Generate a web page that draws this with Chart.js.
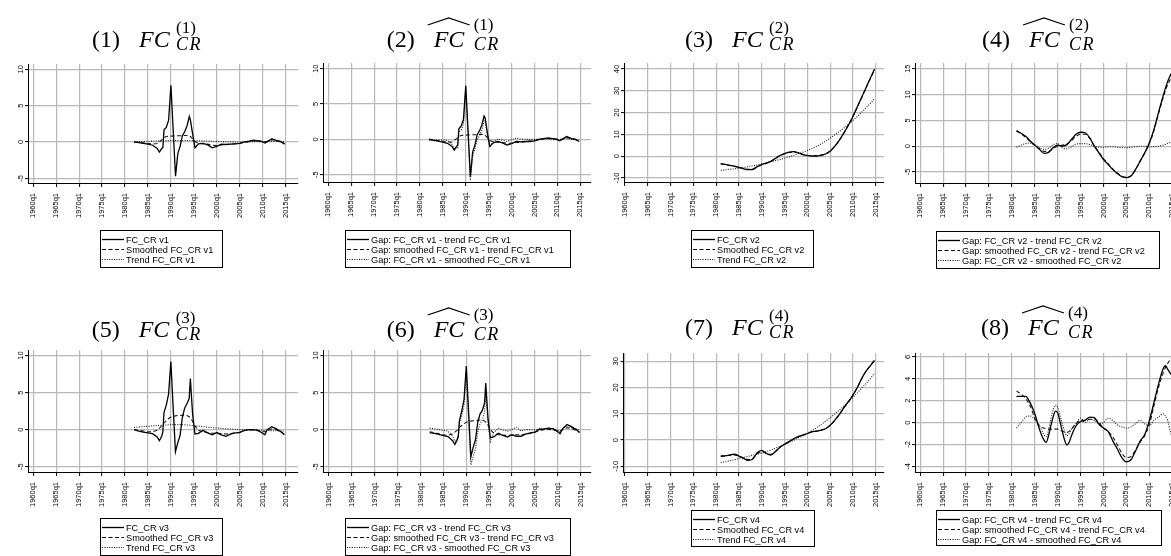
<!DOCTYPE html>
<html><head><meta charset="utf-8">
<script src="https://cdn.jsdelivr.net/npm/chart.js@4.4.1/dist/chart.umd.min.js"></script>
<style>
html,body{margin:0;padding:0;background:#fff;width:1171px;height:556px;overflow:hidden}
#wrap{position:relative;width:1171px;height:556px;overflow:hidden;background:#fff}
#wrap canvas{position:absolute}
#ov{position:absolute;left:0;top:0}
</style></head><body><div id="wrap"><svg id="ov" width="1171" height="556" xmlns="http://www.w3.org/2000/svg"></svg></div>
<script>
// ---------- tick labels ----------
const X_TICKS = [1960,1965,1970,1975,1980,1985,1990,1995,2000,2005,2010,2015];
const X_TICK_LABELS = ["1960q1","1965q1","1970q1","1975q1","1980q1","1985q1","1990q1","1995q1","2000q1","2005q1","2010q1","2015q1"];
const Y_TICKS_1 = [-5,0,5,10];
const Y_TICKS_2 = [-5,0,5,10];
const Y_TICKS_3 = [-10,0,10,20,30,40];
const Y_TICKS_4 = [-5,0,5,10,15];
const Y_TICKS_5 = [-5,0,5,10];
const Y_TICKS_6 = [-5,0,5,10];
const Y_TICKS_7 = [-10,0,10,20,30];
const Y_TICKS_8 = [-4,-2,0,2,4,6];

// ---------- time points (years) ----------
const T_A = [1982,1983,1984,1985,1986,1987,1987.5,1988,1988.25,1988.5,1989,1989.5,1990,1990.5,1991,1991.5,1992,1992.5,1993,1993.5,1994,1994.25,1994.75,1995.25,1996,1997,1998,1999,2000,2001,2002,2003,2004,2005,2006,2007,2008,2009,2010,2010.5,2011,2012,2013,2014,2014.75];
const T_B = [1981,1982,1983,1984,1985,1986,1987,1988,1989,1990,1991,1992,1993,1994,1995,1996,1997,1998,1999,2000,2001,2002,2003,2004,2005,2006,2007,2008,2009,2010,2011,2012,2013,2014,2014.75];
const T_C = [1981,1982,1983,1984,1985,1986,1987,1987.5,1988,1988.5,1989,1989.5,1990,1990.5,1991,1991.5,1992,1992.5,1993,1994,1995,1996,1997,1998,1999,2000,2001,2002,2003,2004,2005,2006,2007,2008,2009,2010,2011,2012,2013,2013.5,2014,2014.75];

// ---------- series ----------
const P1_FC = [0.0,-0.1,-0.2,-0.3,-0.45,-0.9,-1.4,-0.9,-0.75,1.7,2.0,3.0,7.8,1.5,-4.7,-1.6,-0.6,0.9,1.4,2.2,3.5,3.0,1.0,-0.8,-0.25,-0.2,-0.4,-0.8,-0.6,-0.3,-0.35,-0.3,-0.25,-0.2,0.0,0.1,0.25,0.15,0.0,-0.15,0.05,0.45,0.2,0.0,-0.3];
const P1_SMOOTH = [0.0,-0.05,-0.1,-0.2,-0.3,-0.2,0.0,0.3,0.45,0.6,0.75,0.8,0.8,0.82,0.85,0.85,0.85,0.9,0.9,0.9,0.85,0.75,0.4,0.05,-0.2,-0.25,-0.3,-0.45,-0.5,-0.4,-0.35,-0.3,-0.25,-0.2,-0.05,0.05,0.15,0.15,0.1,0.05,0.1,0.3,0.25,0.05,-0.2];
const P1_TREND = [0.05,0.06,0.08,0.1,0.12,0.14,0.15,0.16,0.17,0.17,0.18,0.19,0.2,0.2,0.2,0.2,0.2,0.2,0.2,0.2,0.2,0.2,0.19,0.18,0.17,0.15,0.13,0.1,0.08,0.06,0.04,0.02,0.0,0.0,0.0,0.02,0.04,0.05,0.06,0.06,0.07,0.08,0.08,0.07,0.05];

const P2_GAP = [0.0,-0.15,-0.25,-0.4,-0.55,-1.0,-1.5,-1.0,-0.8,1.5,1.9,2.8,7.6,1.3,-5.3,-1.8,-0.8,0.7,1.2,2.0,3.3,3.0,0.8,-1.0,-0.5,-0.3,-0.5,-0.8,-0.6,-0.3,-0.35,-0.3,-0.3,-0.2,0.0,0.1,0.2,0.1,-0.05,-0.2,0.0,0.4,0.15,-0.05,-0.3];
const P2_SGAP = [-0.05,-0.1,-0.2,-0.3,-0.4,-0.35,-0.15,0.1,0.25,0.4,0.55,0.6,0.6,0.62,0.65,0.65,0.65,0.68,0.7,0.7,0.65,0.55,0.2,-0.15,-0.35,-0.4,-0.45,-0.55,-0.55,-0.45,-0.4,-0.32,-0.25,-0.2,-0.05,0.05,0.12,0.1,0.05,0.0,0.05,0.2,0.15,0.0,-0.25];
const P2_DGAP = [0.05,-0.05,-0.1,-0.1,-0.15,-0.7,-1.4,-1.2,-1.2,1.1,1.3,2.2,7.0,0.7,-5.8,-2.4,-1.4,0.0,0.5,1.3,2.6,2.4,0.5,-1.1,-0.3,0.05,-0.1,-0.3,-0.05,0.2,0.05,0.0,0.0,0.0,0.05,0.05,0.1,0.0,-0.05,-0.2,-0.05,0.2,0.0,-0.05,-0.05];

const P3_FC = [-3.4,-3.8,-4.2,-4.6,-5.1,-5.7,-6.2,-6.1,-4.8,-3.8,-3.2,-2.4,-1.0,0.3,1.2,1.9,2.1,1.6,0.7,0.3,0.1,0.1,0.4,1.0,2.3,4.5,7.3,10.6,14.2,18.2,22.8,27.4,32.0,36.6,40.0];
const P3_SMOOTH = [-3.5,-3.9,-4.3,-4.7,-5.2,-5.7,-6.0,-5.9,-4.9,-4.0,-3.3,-2.4,-1.1,0.2,1.1,1.7,1.9,1.6,0.9,0.4,0.2,0.2,0.5,1.1,2.4,4.5,7.3,10.6,14.2,18.2,22.7,27.3,31.9,36.4,39.6];
const P3_TREND = [-6.5,-6.3,-6.0,-5.8,-5.5,-5.2,-4.8,-4.4,-4.0,-3.5,-3.0,-2.5,-2.0,-1.5,-0.9,-0.3,0.4,1.1,1.8,2.6,3.5,4.5,5.6,6.9,8.3,9.8,11.3,12.9,14.6,16.4,18.3,20.3,22.4,24.6,26.5];

const P4_GAP = [3.0,2.5,1.9,1.0,0.2,-0.6,-1.4,-1.2,-0.3,0.2,0.0,0.3,1.3,2.3,2.7,2.6,1.6,0.0,-1.3,-2.6,-3.5,-4.5,-5.3,-5.9,-6.1,-5.8,-4.5,-2.9,-1.3,0.6,3.2,6.5,9.7,12.5,14.0];
const P4_SGAP = [2.9,2.4,1.7,0.9,0.1,-0.5,-1.0,-1.0,-0.5,0.0,0.2,0.4,1.1,1.9,2.3,2.3,1.5,0.1,-1.2,-2.4,-3.4,-4.4,-5.2,-5.8,-6.0,-5.7,-4.5,-2.9,-1.3,0.5,3.0,6.2,9.3,11.9,13.2];
const P4_DGAP = [-0.2,0.2,0.5,0.6,0.3,-0.3,-0.6,-0.4,0.3,0.5,-0.3,-0.5,-0.1,0.4,0.5,0.5,0.3,0.0,-0.2,-0.2,-0.1,-0.1,-0.2,-0.3,-0.3,-0.2,-0.1,0.0,0.0,-0.1,-0.1,0.0,0.2,0.5,0.8];

const P5_FC = [0.0,-0.2,-0.35,-0.45,-0.55,-1.0,-1.5,-0.9,-0.3,2.3,3.3,4.8,9.2,3.0,-3.0,-1.8,-0.8,1.6,2.9,3.5,4.2,6.9,2.0,-0.6,-0.5,-0.1,-0.45,-0.7,-0.4,-0.7,-0.9,-0.6,-0.45,-0.4,-0.1,0.0,0.0,-0.1,-0.5,-0.7,0.0,0.4,0.1,-0.3,-0.7];
const P5_SMOOTH = [0.0,-0.1,-0.2,-0.3,-0.3,-0.1,0.2,0.5,0.7,0.9,1.2,1.5,1.7,1.8,1.85,1.9,1.9,1.95,1.95,1.9,1.75,1.6,1.1,0.5,-0.1,-0.3,-0.4,-0.5,-0.5,-0.55,-0.6,-0.55,-0.45,-0.35,-0.15,-0.05,-0.05,-0.15,-0.3,-0.3,-0.15,0.1,0.0,-0.3,-0.6];
const P5_TREND = [0.3,0.35,0.4,0.45,0.5,0.55,0.57,0.6,0.6,0.62,0.63,0.65,0.67,0.68,0.68,0.68,0.67,0.66,0.65,0.63,0.6,0.58,0.55,0.52,0.47,0.4,0.33,0.27,0.22,0.17,0.12,0.08,0.04,0.0,-0.02,-0.04,-0.06,-0.08,-0.1,-0.1,-0.12,-0.14,-0.16,-0.18,-0.2];

const P6_GAP = [-0.4,-0.5,-0.65,-0.8,-0.95,-1.5,-2.0,-1.4,-0.9,1.2,2.5,4.0,8.6,2.5,-3.7,-2.4,-1.4,1.0,2.1,2.6,3.6,6.3,1.5,-1.1,-1.0,-0.5,-0.8,-1.0,-0.7,-0.9,-0.9,-0.6,-0.45,-0.35,0.05,0.1,0.2,0.1,-0.3,-0.55,0.1,0.7,0.4,0.0,-0.4];
const P6_SGAP = [-0.3,-0.4,-0.55,-0.7,-0.75,-0.6,-0.35,-0.1,0.1,0.3,0.55,0.8,1.0,1.1,1.15,1.2,1.2,1.25,1.3,1.3,1.15,1.0,0.6,0.0,-0.5,-0.7,-0.75,-0.8,-0.75,-0.7,-0.7,-0.6,-0.5,-0.35,-0.1,0.0,0.05,-0.05,-0.2,-0.2,-0.05,0.25,0.15,-0.1,-0.35];
const P6_DGAP = [0.2,0.1,0.0,-0.1,-0.2,-0.9,-1.6,-1.3,-1.0,0.9,1.9,3.2,7.5,1.3,-4.8,-3.6,-2.6,-0.3,0.8,1.3,2.4,5.0,0.9,-1.6,-0.4,0.2,-0.05,-0.2,0.05,0.3,-0.2,0.0,0.0,-0.05,0.1,0.1,0.15,0.15,-0.1,-0.35,0.1,0.45,0.25,0.1,-0.05];

const P7_FC = [-6.1,-6.0,-5.7,-5.4,-6.1,-7.0,-7.7,-7.3,-4.8,-3.9,-5.1,-5.7,-4.4,-2.7,-1.6,-0.6,0.5,1.3,1.9,2.5,3.2,3.4,3.8,4.3,5.6,7.5,9.7,12.3,14.6,17.1,20.1,23.7,26.5,28.7,30.3];
const P7_SMOOTH = [-6.2,-6.0,-5.8,-5.7,-6.1,-6.8,-7.4,-7.0,-5.2,-4.4,-5.0,-5.4,-4.4,-2.8,-1.6,-0.6,0.4,1.3,1.9,2.5,3.1,3.4,3.8,4.4,5.6,7.5,9.7,12.2,14.6,17.1,20.2,23.6,26.5,28.8,30.5];
const P7_TREND = [-8.6,-8.3,-7.9,-7.5,-7.0,-6.6,-6.2,-5.8,-5.4,-5.0,-4.4,-3.8,-3.1,-2.4,-1.7,-0.9,-0.1,0.8,1.6,2.5,3.6,4.7,5.9,7.2,8.5,9.9,11.4,12.9,14.5,16.2,18.0,19.9,21.8,23.8,25.5];

const P8_GAP = [2.4,2.4,2.4,1.8,0.8,-0.6,-1.6,-1.8,-1.2,-0.3,0.5,1.05,0.9,0.1,-0.8,-1.6,-2.05,-1.8,-1.2,-0.3,0.1,0.2,0.5,0.45,-0.15,-0.5,-0.8,-1.65,-2.4,-3.2,-3.6,-3.4,-2.6,-1.7,-1.1,0.15,1.8,3.5,4.9,5.2,4.9,4.4];
const P8_SGAP = [2.9,2.6,2.2,1.5,0.4,-0.3,-0.5,-0.55,-0.6,-0.6,-0.6,-0.6,-0.6,-0.7,-0.8,-0.85,-0.9,-0.8,-0.6,-0.1,0.2,0.2,0.3,0.3,0.0,-0.5,-0.8,-1.3,-2.0,-2.8,-3.2,-3.1,-2.5,-1.8,-1.2,-0.2,1.5,3.2,4.5,5.0,5.4,5.9];
const P8_DGAP = [-0.5,0.0,0.5,0.6,0.3,-0.3,-1.1,-1.3,-0.7,0.3,1.2,1.6,1.4,0.7,-0.1,-0.8,-1.2,-1.0,-0.6,-0.1,0.4,0.0,0.3,0.2,-0.1,0.0,0.4,0.2,-0.2,-0.4,-0.5,-0.4,-0.1,0.2,-0.1,-0.3,0.2,0.5,0.8,0.6,0.2,-1.1];

// ---------- legend texts ----------
const LEG_1 = ["FC_CR v1","Smoothed FC_CR v1","Trend FC_CR v1"];
const LEG_2 = ["Gap: FC_CR v1 - trend FC_CR v1","Gap: smoothed FC_CR v1 - trend FC_CR v1","Gap: FC_CR v1 - smoothed FC_CR v1"];
const LEG_3 = ["FC_CR v2","Smoothed FC_CR v2","Trend FC_CR v2"];
const LEG_4 = ["Gap: FC_CR v2 - trend FC_CR v2","Gap: smoothed FC_CR v2 - trend FC_CR v2","Gap: FC_CR v2 - smoothed FC_CR v2"];
const LEG_5 = ["FC_CR v3","Smoothed FC_CR v3","Trend FC_CR v3"];
const LEG_6 = ["Gap: FC_CR v3 - trend FC_CR v3","Gap: smoothed FC_CR v3 - trend FC_CR v3","Gap: FC_CR v3 - smoothed FC_CR v3"];
const LEG_7 = ["FC_CR v4","Smoothed FC_CR v4","Trend FC_CR v4"];
const LEG_8 = ["Gap: FC_CR v4 - trend FC_CR v4","Gap: smoothed FC_CR v4 - trend FC_CR v4","Gap: FC_CR v4 - smoothed FC_CR v4"];

// ---------- titles ----------
const TITLE_NUM = ["(1)","(2)","(3)","(4)","(5)","(6)","(7)","(8)"];
const TITLE_SUP = ["(1)","(1)","(2)","(2)","(3)","(3)","(4)","(4)"];
const TITLE_HAT = [false,true,false,true,false,true,false,true];

// ---------- panels (data references) ----------
const PANELS = [
  {t:T_A, s:[P1_FC,P1_SMOOTH,P1_TREND], yt:Y_TICKS_1, leg:LEG_1, smooth:false},
  {t:T_A, s:[P2_GAP,P2_SGAP,P2_DGAP], yt:Y_TICKS_2, leg:LEG_2, smooth:false},
  {t:T_B, s:[P3_FC,P3_SMOOTH,P3_TREND], yt:Y_TICKS_3, leg:LEG_3, smooth:true},
  {t:T_B, s:[P4_GAP,P4_SGAP,P4_DGAP], yt:Y_TICKS_4, leg:LEG_4, smooth:true},
  {t:T_A, s:[P5_FC,P5_SMOOTH,P5_TREND], yt:Y_TICKS_5, leg:LEG_5, smooth:false},
  {t:T_A, s:[P6_GAP,P6_SGAP,P6_DGAP], yt:Y_TICKS_6, leg:LEG_6, smooth:false},
  {t:T_B, s:[P7_FC,P7_SMOOTH,P7_TREND], yt:Y_TICKS_7, leg:LEG_7, smooth:true},
  {t:T_C, s:[P8_GAP,P8_SGAP,P8_DGAP], yt:Y_TICKS_8, leg:LEG_8, smooth:true}
];

// ---------- layout (pixel geometry) ----------
const LAYOUT = [
  {cl:0,   ax:28,    r:298,  top:64,    bot:183,   x60:33.2,  x15:285.7,  yA:[10,69.3],  yB:[-5,178.3], yPad:0.3,  title:[92,47],    leg:[100,230,122,37]},
  {cl:296, ax:323,   r:591,  top:63.3,  bot:182.7, x60:328.3, x15:580.3,  yA:[10,69],    yB:[-5,175],   yPad:0.3,  title:[386.7,47], leg:[345,230,225,37]},
  {cl:592, ax:624,   r:884,  top:63.3,  bot:182.7, x60:625,   x15:875.7,  yA:[40,69.3],  yB:[-10,178.3],yPad:-0.9, title:[685,47],   leg:[691,230,122,37]},
  {cl:888, ax:915,   r:1186, top:63.3,  bot:183.3, x60:920.3, x15:1172.2, yA:[15,69],    yB:[-5,172.3], yPad:0.3,  title:[982,47],   leg:[936,231,223,37]},
  {cl:0,   ax:28,    r:298,  top:349.7, bot:471.3, x60:33.3,  x15:285.5,  yA:[10,355.3], yB:[-5,466.3], yPad:0.3,  title:[91.7,337], leg:[100,518,122,37]},
  {cl:296, ax:323.5, r:591,  top:349.7, bot:471.3, x60:329,   x15:580.7,  yA:[10,355.3], yB:[-5,466.3], yPad:0.3,  title:[386.7,337],leg:[345,518,225,37]},
  {cl:592, ax:623.5, r:884,  top:353,   bot:472,   x60:625,   x15:875.7,  yA:[30,361.3], yB:[-10,466.3],yPad:-0.9, title:[685,335],  leg:[691,510,123,36]},
  {cl:888, ax:915,   r:1186, top:353,   bot:472,   x60:920.3, x15:1172.2, yA:[6,357],    yB:[-4,466.3], yPad:1.2,  title:[981,335],  leg:[936,510,225,35]}
];

const STYLES = [
  {dash:[], w:1.3, c:'#000'},
  {dash:[4,2.5], w:1.1, c:'#1a1a1a'},
  {dash:[1,1.4], w:1.1, c:'#1a1a1a'}
];
const GRID_COLOR = '#b9b9b9';
const TICK_FONT = {family:'Liberation Sans', size:7.5};

const wrap = document.getElementById('wrap');
const ov = document.getElementById('ov');
const NS = 'http://www.w3.org/2000/svg';

function svgEl(tag, attrs, text){
  const e = document.createElementNS(NS, tag);
  for (const k in attrs) e.setAttribute(k, attrs[k]);
  if (text !== undefined) e.textContent = text;
  ov.appendChild(e);
  return e;
}

function makeChart(P, L){
  const pad = 6, xh = 45;
  const cTop = L.top - pad;
  const cw = Math.round(L.r + 2 - L.cl);
  const ch = Math.round((L.bot - L.top) + pad + xh);
  const cv = document.createElement('canvas');
  cv.width = cw; cv.height = ch;
  cv.style.left = L.cl + 'px'; cv.style.top = cTop + 'px';
  cv.style.width = cw + 'px'; cv.style.height = ch + 'px';
  wrap.insertBefore(cv, ov);

  const yAxisW = L.ax - L.cl;
  const plotW = (cw - 2) - yAxisW;
  const ppy = (L.x15 - L.x60) / 55;
  const xmin = 1960 - (L.x60 - L.ax) / ppy;
  const xmax = xmin + plotW / ppy;
  const plotH = ch - pad - xh;
  const ppu = (L.yB[1] - L.yA[1]) / (L.yA[0] - L.yB[0]);
  const ymax = L.yA[0] + (L.yA[1] - L.top) / ppu;
  const ymin = ymax - plotH / ppu;

  const datasets = P.s.map((vals, k) => ({
    data: P.t.map((x, i) => ({x: x, y: vals[i]})),
    borderColor: STYLES[k].c,
    borderWidth: STYLES[k].w,
    borderDash: STYLES[k].dash,
    pointRadius: 0,
    fill: false,
    tension: P.smooth ? 0.3 : 0,
    cubicInterpolationMode: P.smooth ? 'monotone' : 'default'
  }));

  new Chart(cv, {
    type: 'line',
    data: {datasets},
    options: {
      responsive: false, animation: false, devicePixelRatio: 1,
      layout: {padding: {top: pad, right: 2, left: 0, bottom: 0}},
      plugins: {legend: {display: false}, tooltip: {enabled: false}, title: {display: false}},
      scales: {
        x: {
          type: 'linear', position: 'bottom', min: xmin, max: xmax,
          afterBuildTicks: s => { s.ticks = X_TICKS.map(v => ({value: v})); },
          afterFit: s => { s.height = xh; s.paddingLeft = 0; s.paddingRight = 0; },
          grid: {color: GRID_COLOR, lineWidth: 1.2, tickLength: 4, tickColor: '#000', tickWidth: 1},
          border: {color: '#000', width: 1},
          ticks: {autoSkip: false, minRotation: 90, maxRotation: 90, padding: 6, color: '#000', font: TICK_FONT,
                  callback: (v, i) => X_TICK_LABELS[i]}
        },
        y: {
          type: 'linear', position: 'left', min: ymin, max: ymax,
          afterBuildTicks: s => { s.ticks = P.yt.map(v => ({value: v})); },
          afterFit: s => { s.width = yAxisW; s.paddingTop = 0; s.paddingBottom = 0; },
          grid: {color: GRID_COLOR, lineWidth: 1.2, tickLength: 3, tickColor: '#000', tickWidth: 1},
          border: {color: '#000', width: 1},
          ticks: {autoSkip: false, minRotation: 90, maxRotation: 90, crossAlign: 'center', padding: L.yPad, color: '#000', font: TICK_FONT,
                  callback: (v, i) => String(P.yt[i])}
        }
      }
    }
  });
}

function drawTitle(i, L){
  const bx = L.title[0], bl = L.title[1];
  const ff = 'Liberation Serif';
  svgEl('text', {x: bx, y: bl, 'font-family': ff, 'font-size': 24, fill: '#000'}, TITLE_NUM[i]);
  svgEl('text', {x: bx + 47, y: bl, 'font-family': ff, 'font-size': 24, 'font-style': 'italic', fill: '#000'}, 'FC');
  const hat = TITLE_HAT[i];
  const sx = bx + (hat ? 87 : 84);
  svgEl('text', {x: sx, y: bl - (hat ? 17 : 14), 'font-family': ff, 'font-size': 17, fill: '#000'}, TITLE_SUP[i]);
  svgEl('text', {x: sx, y: bl + 3, 'font-family': ff, 'font-size': 18, 'font-style': 'italic', 'letter-spacing': 1.5, fill: '#000'}, 'CR');
  if (hat) {
    const fx = bx + 47;
    svgEl('path', {d: `M${fx-6},${bl-22} L${fx+15},${bl-29} L${fx+36},${bl-22}`, fill: 'none', stroke: '#000', 'stroke-width': 1.2});
  }
}

function drawLegend(P, L){
  const [x, y, w, h] = L.leg;
  svgEl('rect', {x: x + 0.5, y: y + 0.5, width: w, height: h, fill: '#fff', stroke: '#000', 'stroke-width': 1});
  const rows = [9.5, 19.5, 29.5];
  const dashes = ['', '4,2.5', '1,1.4'];
  rows.forEach((dy, k) => {
    const ly = y + dy;
    const a = {x1: x + 2, x2: x + 24, y1: ly, y2: ly, stroke: '#000', 'stroke-width': k === 0 ? 1.3 : 1.1};
    if (dashes[k]) a['stroke-dasharray'] = dashes[k];
    svgEl('line', a);
    svgEl('text', {x: x + 26, y: ly + 3.3, 'font-family': 'Liberation Sans', 'font-size': 9.2, fill: '#000'}, P.leg[k]);
  });
}

PANELS.forEach((P, i) => {
  makeChart(P, LAYOUT[i]);
  drawTitle(i, LAYOUT[i]);
  drawLegend(P, LAYOUT[i]);
});
</script></body></html>
